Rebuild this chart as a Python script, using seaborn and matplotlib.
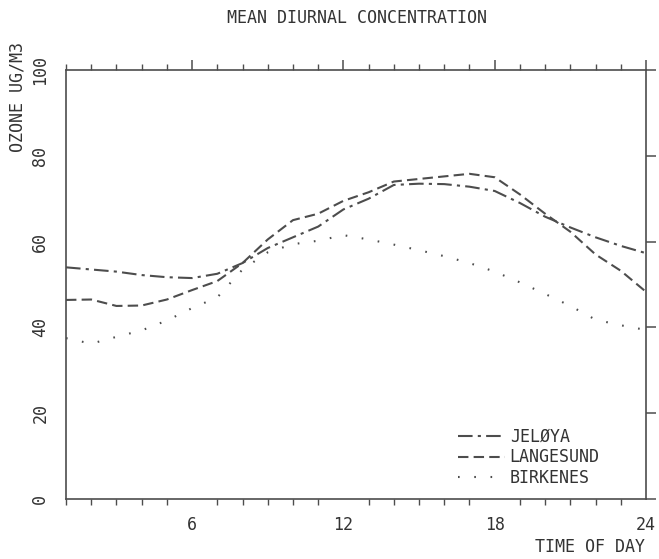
import numpy as np
import pandas as pd
import matplotlib
matplotlib.use("Agg")
import matplotlib.pyplot as plt
import seaborn as sns

hours = list(range(1, 25))
jeloya = [54.0, 53.5, 53.0, 52.2, 51.7, 51.5, 52.5, 55.0, 58.5, 61.0, 63.5, 67.5,
          70.0, 73.2, 73.5, 73.4, 72.8, 71.8, 69.0, 65.8, 63.3, 61.0, 59.0, 57.3]
langesund = [46.4, 46.5, 45.0, 45.1, 46.5, 48.7, 50.8, 55.0, 60.5, 65.0, 66.5, 69.5,
             71.5, 74.0, 74.6, 75.2, 75.8, 75.0, 71.0, 66.5, 62.3, 57.0, 53.2, 48.3]
birkenes = [37.5, 36.2, 37.8, 39.3, 41.6, 44.5, 47.0, 53.5, 57.5, 59.4, 60.2, 61.5,
            60.5, 59.3, 58.0, 56.6, 55.0, 53.0, 50.5, 47.8, 45.0, 41.8, 40.5, 39.4]
series_names = ["JELØYA", "LANGESUND", "BIRKENES"]
x_ticks = [6, 12, 18, 24]
y_ticks = [0, 20, 40, 60, 80, 100]

df = pd.DataFrame({
    "hour": hours * 3,
    "ozone": jeloya + langesund + birkenes,
    "site": sum([[n] * 24 for n in series_names], []),
})

sns.set_style("white")
plt.rcParams["font.family"] = ["DejaVu Sans Mono", "DejaVu Sans"]

ink = "#4d4d4d"
txt = "#333333"
fig = plt.figure(figsize=(6.59, 5.59), dpi=100)
ax = fig.add_axes([66 / 659, 1 - 499 / 559, 580 / 659, 429 / 559])

dashes = {"JELØYA": (7, 2.5, 1.5, 2.5), "LANGESUND": (5, 2.5), "BIRKENES": (0.8, 7)}
palette = {n: ink for n in series_names}
sns.lineplot(data=df, x="hour", y="ozone", hue="site", style="site",
             dashes=dashes, palette=palette, linewidth=1.5, ax=ax, legend=True)

ax.set_xlim(1, 24)
ax.set_ylim(0, 100)
ax.set_xticks(x_ticks)
ax.set_xticks(hours, minor=True)
ax.set_yticks(y_ticks)
ax.set_xticklabels([str(t) for t in x_ticks], fontsize=12, color=txt)
ax.set_yticklabels([str(t) for t in y_ticks], fontsize=12, rotation=90,
                   va="center", color=txt)
ax.tick_params(axis="both", which="major", direction="out", length=7, width=1.1,
               color=ink, top=True, right=True, labeltop=False, labelright=False)
ax.tick_params(axis="x", which="minor", direction="out", length=4, width=1.0,
               color=ink, top=True, bottom=True)
ax.tick_params(axis="x", which="major", pad=5)
ax.tick_params(axis="y", which="major", pad=5)
for s in ax.spines.values():
    s.set_visible(True)
    s.set_color(ink)
    s.set_linewidth(1.2)
ax.set_xlabel("")
ax.set_ylabel("")

leg = ax.legend(title=None, frameon=False, loc="upper left",
                bbox_to_anchor=((458 - 66) / 580, (499 - 428) / 429),
                borderaxespad=0, borderpad=0, handlelength=2.8, handletextpad=0.3,
                labelspacing=0.15, prop={"size": 12})
for t in leg.get_texts():
    t.set_color(txt)

fig.text(357 / 659, 1 - 18 / 559, "MEAN DIURNAL CONCENTRATION", ha="center",
         va="center", fontsize=12, color=txt)
fig.text(18 / 659, 1 - 97 / 559, "OZONE UG/M3", ha="center", va="center",
         rotation=90, fontsize=12, color=txt)
fig.text(590 / 659, 1 - 547 / 559, "TIME OF DAY", ha="center", va="center",
         fontsize=12, color=txt)

fig.savefig("out.png", dpi=100)
